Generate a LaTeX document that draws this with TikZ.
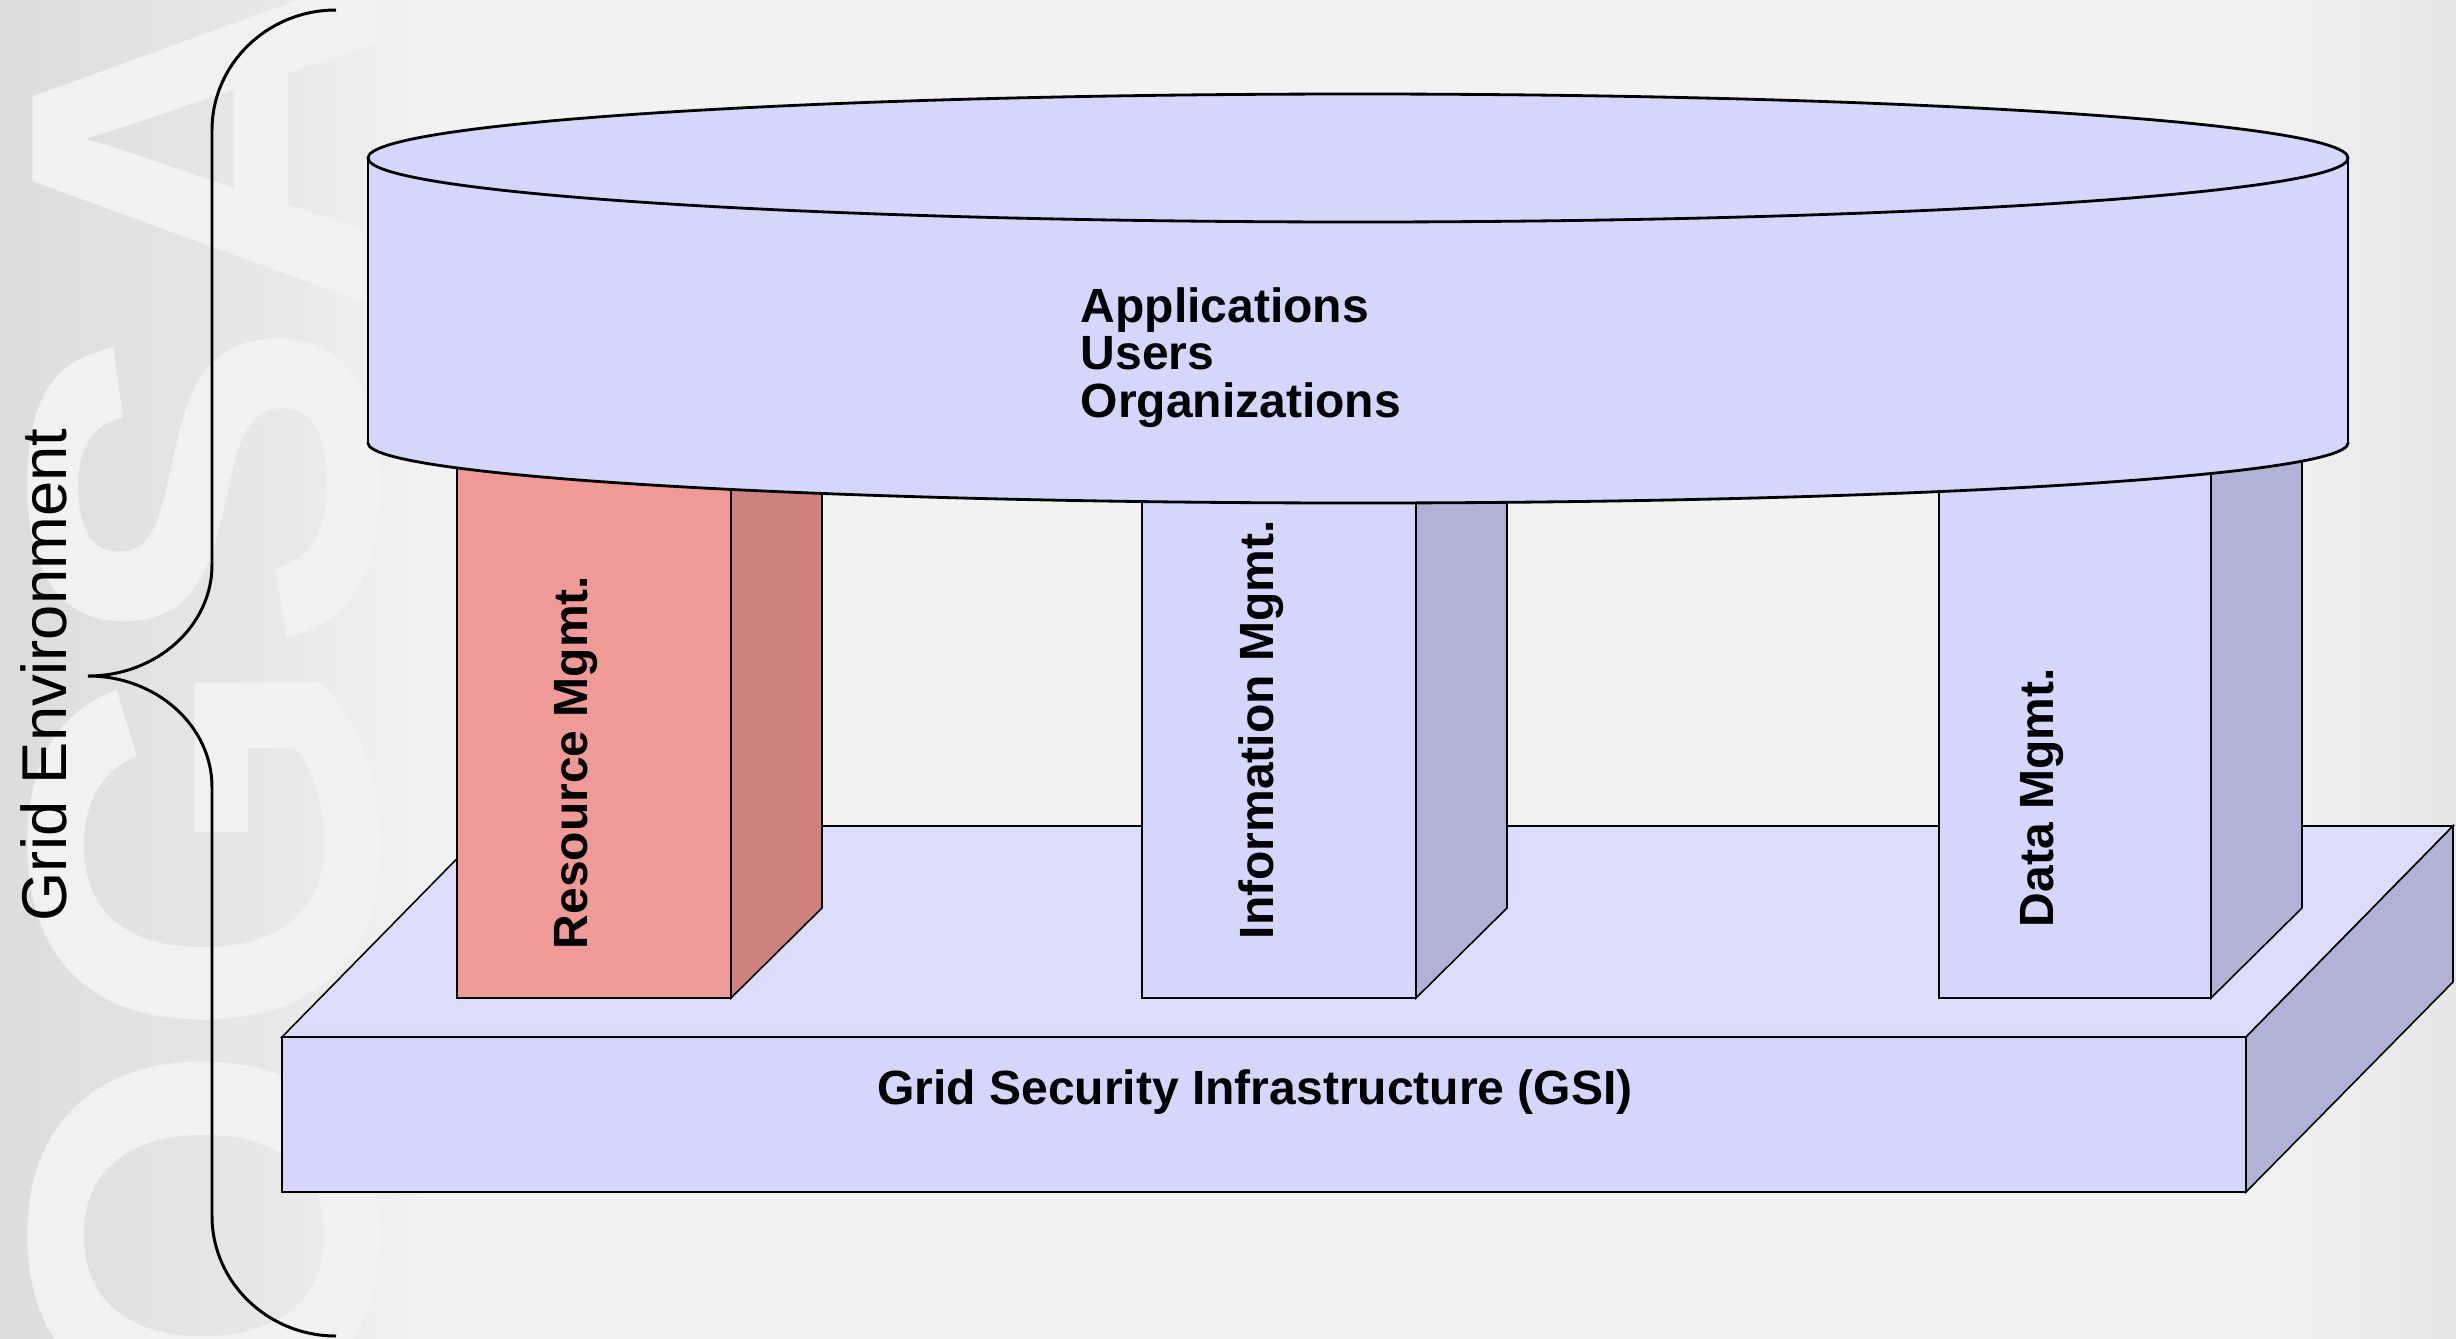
\documentclass[tikz,border=0pt]{standalone}
\usepackage{fontspec}
\setmainfont{Liberation Sans}
\definecolor{bg}{HTML}{F2F2F2}
\definecolor{bandgray}{HTML}{DCDCDC}
\definecolor{bandmid}{HTML}{E9E9E9}
\definecolor{rightgray}{HTML}{E6E6E6}
\definecolor{markcol}{HTML}{F1F1F1}
\definecolor{slab}{HTML}{D5D6FC}
\definecolor{slabtop}{HTML}{DCDDFC}
\definecolor{slabside}{HTML}{B1B3D6}
\definecolor{rosefront}{HTML}{F09A97}
\definecolor{roseside}{HTML}{CD8280}
\begin{document}
\begin{tikzpicture}[x=0.01cm,y=-0.01cm,line join=miter,
  edge/.style={draw=black,line width=0.8pt},
  thinedge/.style={draw=black,line width=0.45pt},
  lbl/.style={font=\bfseries\fontsize{13.66pt}{13.5pt}\selectfont,inner sep=0pt},
  vlbl/.style={lbl,rotate=90,anchor=base west}]

\useasboundingbox (0,0) rectangle (2456,1339);

% backdrop with soft grey edges and the faint OGSA watermark
\fill[bg] (0,0) rectangle (2456,1339);
\shade[left color=bandgray,right color=bandmid] (0,0) rectangle (300,1339);
\shade[left color=bandmid,right color=bg] (300,0) rectangle (430,1339);
\shade[left color=bg,right color=rightgray] (2250,0) rectangle (2456,1339);
\node[font=\bfseries\fontsize{142pt}{142pt}\selectfont,text=markcol,
      rotate=90,anchor=base west,inner sep=0pt] (mark) at (376,1430) {OGSA};

% base slab (GSI)
\coordinate (bFL) at (282,1037);
\coordinate (bFR) at (2246,1037);
\coordinate (bBL) at (489,826);
\coordinate (bBR) at (2453,826);
\coordinate (bFRb) at (2246,1192);
\coordinate (bBRb) at (2453,982);
\filldraw[fill=slabtop,thinedge] (bFL) -- (bBL) -- (bBR) -- (bFR) -- cycle;
\filldraw[fill=slabside,thinedge] (bFR) -- (bBR) -- (bBRb) -- (bFRb) -- cycle;
\filldraw[fill=slab,edge] (282,1037) rectangle (2246,1192);

% three pillars
\foreach \l/\r/\fc/\sc in {457/731/rosefront/roseside,
                           1142/1416/slab/slabside,
                           1939/2211/slab/slabside}{
  \filldraw[fill=\sc,thinedge] (\r,998) -- (\r+91,908) -- (\r+91,300) -- (\r,390) -- cycle;
  \filldraw[fill=\fc,edge] (\l,390) rectangle (\r,998);
}

% cylinder on top
\filldraw[fill=slab,edge] (1358,443) ellipse [x radius=990,y radius=60];
\fill[slab] (368,158) rectangle (2348,443);
\draw[edge] (368,158) -- (368,443) (2348,158) -- (2348,443);
\filldraw[fill=slab,edge] (1358,158) ellipse [x radius=990,y radius=64];

% labels
\node[lbl,anchor=base west] (apps) at (1080,322) {Applications};
\node[lbl,anchor=base west] (users) at (1080,369) {Users};
\node[lbl,anchor=base west] (orgs) at (1080,417) {Organizations};
\node[vlbl] (res) at (587,950) {Resource Mgmt.};
\node[vlbl] (info) at (1273,940) {Information Mgmt.};
\node[vlbl] (data) at (2053,928) {Data Mgmt.};
\node[lbl,anchor=base] (gsi) at (1255,1104) {Grid Security Infrastructure (GSI)};
\node[font=\fontsize{18pt}{18pt}\selectfont,rotate=90,anchor=base west,inner sep=0pt]
  (env) at (67,922) {Grid Environment};

% curly brace spanning the whole stack
\coordinate (brTop) at (336,10);
\coordinate (brTip) at (88,676);
\coordinate (brBot) at (336,1336);
\draw[line width=0.85pt] (brTop) .. controls (267.5,10) and (212,64) .. (212,130)
  -- (212,565) .. controls (212,626) and (156.5,676) .. (brTip)
  .. controls (156.5,676) and (212,726) .. (212,787)
  -- (212,1216) .. controls (212,1282) and (267.5,1336) .. (brBot);
\end{tikzpicture}
\end{document}
